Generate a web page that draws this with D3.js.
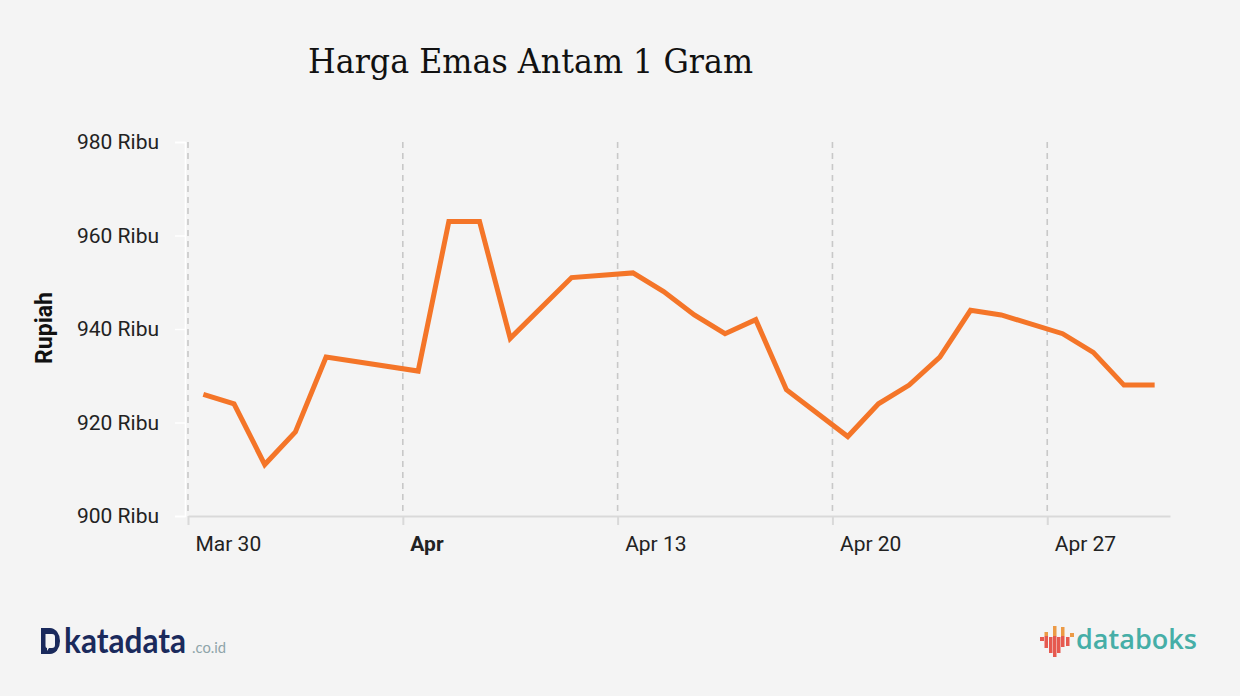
<!DOCTYPE html>
<html>
<head>
<meta charset="utf-8">
<script src="https://cdn.jsdelivr.net/npm/d3@7"></script>
<style>
  html, body { margin: 0; padding: 0; background: #f4f4f4; }
  svg { display: block; }
</style>
</head>
<body>
<svg id="chart" width="1240" height="696"></svg>
<script>
// ---- data ----
const dates = ["2020-03-30","2020-03-31","2020-04-01","2020-04-02","2020-04-03",
  "2020-04-06","2020-04-07","2020-04-08","2020-04-09","2020-04-11",
  "2020-04-13","2020-04-14","2020-04-15","2020-04-16","2020-04-17","2020-04-18",
  "2020-04-20","2020-04-21","2020-04-22","2020-04-23","2020-04-24","2020-04-25",
  "2020-04-27","2020-04-28","2020-04-29","2020-04-30"];
const values = [926,924,911,918,934,
  931,963,963,938,951,
  952,948,943,939,942,927,
  917,924,928,934,944,943,
  939,935,928,928];
const xTickDates = ["2020-03-30","2020-04-06","2020-04-13","2020-04-20","2020-04-27"];
const xTickLabels = ["Mar 30","Apr","Apr 13","Apr 20","Apr 27"];
const yTicks = [900, 920, 940, 960, 980];
const yTickSuffix = " Ribu";
const title = "Harga Emas Antam 1 Gram";
const yTitle = "Rupiah";

const parse = d3.timeParse("%Y-%m-%d");
const parseNoon = s => d3.timeHour.offset(parse(s), 12);
const data = dates.map((d, i) => ({ date: parseNoon(d), value: values[i] }));
const tickDates = xTickDates.map(parse);

const svg = d3.select("#chart");
svg.append("rect").attr("width", 1240).attr("height", 696).attr("fill", "#f4f4f4");

const x = d3.scaleTime()
  .domain([parse("2020-03-30"), parse("2020-05-01")])
  .range([188, 1170]);
const y = d3.scaleLinear().domain([900, 980]).range([516, 142]);

// title
svg.append("text")
  .attr("x", 308).attr("y", 73)
  .attr("font-family", "'DejaVu Serif', serif")
  .attr("font-size", 34)
  .attr("fill", "#111")
  .attr("textLength", 445)
  .attr("lengthAdjust", "spacingAndGlyphs")
  .text(title);

// dashed vertical grid lines
svg.append("g").selectAll("line")
  .data(tickDates)
  .join("line")
  .attr("x1", d => x(d)).attr("x2", d => x(d))
  .attr("y1", y(980)).attr("y2", y(900))
  .attr("stroke", "#c8c8c8")
  .attr("stroke-width", 1.6)
  .attr("stroke-dasharray", "6,5");

// y axis
const yAxis = svg.append("g")
  .attr("transform", "translate(185,0)")
  .call(d3.axisLeft(y).tickValues(yTicks).tickSize(10).tickPadding(16)
    .tickFormat(d => d + yTickSuffix));
yAxis.select(".domain").attr("stroke", "#ffffff").attr("stroke-width", 1.5);
yAxis.selectAll(".tick line").attr("stroke", "#ffffff").attr("stroke-width", 1.5);
yAxis.selectAll(".tick text")
  .attr("font-family", "Roboto, sans-serif")
  .attr("font-size", 21)
  .attr("fill", "#222");

// x axis
const xAxis = svg.append("g")
  .attr("transform", "translate(0,516)")
  .call(d3.axisBottom(x).tickValues(tickDates).tickSize(9).tickSizeOuter(0)
    .tickFormat((d, i) => xTickLabels[i]));
xAxis.select(".domain").attr("stroke", "#d9d9d9").attr("stroke-width", 2);
xAxis.selectAll(".tick line").attr("stroke", "#d9d9d9").attr("stroke-width", 2);
xAxis.selectAll(".tick text")
  .attr("font-family", "Roboto, sans-serif")
  .attr("font-size", 21)
  .attr("fill", "#222")
  .attr("text-anchor", "start")
  .attr("x", 7).attr("y", 35).attr("dy", null)
  .attr("font-weight", (d, i) => i === 1 ? "bold" : "normal");

// y-axis title
svg.append("text")
  .attr("transform", "translate(52,328) rotate(-90)")
  .attr("text-anchor", "middle")
  .attr("font-family", "Roboto, sans-serif")
  .attr("font-weight", "bold")
  .attr("font-size", 23)
  .attr("fill", "#111")
  .text(yTitle);

// line
const line = d3.line().x(d => x(d.date)).y(d => y(d.value));
svg.append("path")
  .datum(data)
  .attr("d", line)
  .attr("fill", "none")
  .attr("stroke", "#f47528")
  .attr("stroke-width", 5)
  .attr("stroke-linejoin", "miter")
  .attr("stroke-linecap", "butt");

// katadata logo
const kg = svg.append("g");
kg.append("path")
  .attr("d", "M41,628 H50 A10,13 0 0 1 60,641 A10,13 0 0 1 50,654 H41 Z")
  .attr("fill", "#1a2a5c");
kg.append("path")
  .attr("d", "M45.5,634 H52 Q55,634 55,637 V645 Q55,648 52,648 H49 L47,651 V648 Q45.5,648 45.5,646 Z")
  .attr("fill", "#f4f4f4");
kg.append("text")
  .attr("x", 64).attr("y", 653)
  .attr("font-family", "Lato, sans-serif")
  .attr("font-weight", "bold")
  .attr("font-size", 34)
  .attr("fill", "#1a2a5c")
  .attr("textLength", 122)
  .attr("lengthAdjust", "spacingAndGlyphs")
  .text("katadata");
kg.append("text")
  .attr("x", 192).attr("y", 653)
  .attr("font-family", "Lato, sans-serif")
  .attr("font-size", 16)
  .attr("fill", "#8ea4a9")
  .attr("textLength", 34)
  .attr("lengthAdjust", "spacingAndGlyphs")
  .text(".co.id");

// databoks logo
const dg = svg.append("g");
const bars = [
  [1040, 4, 637, 641, null],
  [1044.5, 3.5, 636, 648, 632],
  [1049, 3.5, 637, 653, null],
  [1053, 3.5, 636, 657, 626],
  [1057, 3.5, 637, 653, null],
  [1061, 3.5, 636, 647, 627],
  [1066, 3.5, 637, 646, null],
  [1070, 4, 633, 637, 633]
];
bars.forEach(b => {
  if (b[4] !== null) {
    dg.append("rect").attr("x", b[0]).attr("width", b[1])
      .attr("y", b[4]).attr("height", (b[0] === 1070 ? b[3] : b[2]) - b[4])
      .attr("fill", "#ec9a45");
  }
  if (b[0] !== 1070) {
    dg.append("rect").attr("x", b[0]).attr("width", b[1])
      .attr("y", b[2]).attr("height", b[3] - b[2])
      .attr("fill", "#e6594f");
  }
});
dg.append("text")
  .attr("x", 1076).attr("y", 649)
  .attr("font-family", "'Open Sans', sans-serif")
  .attr("font-weight", 600)
  .attr("font-size", 27)
  .attr("fill", "#46aea7")
  .attr("textLength", 121)
  .attr("lengthAdjust", "spacingAndGlyphs")
  .text("databoks");
</script>
</body>
</html>
